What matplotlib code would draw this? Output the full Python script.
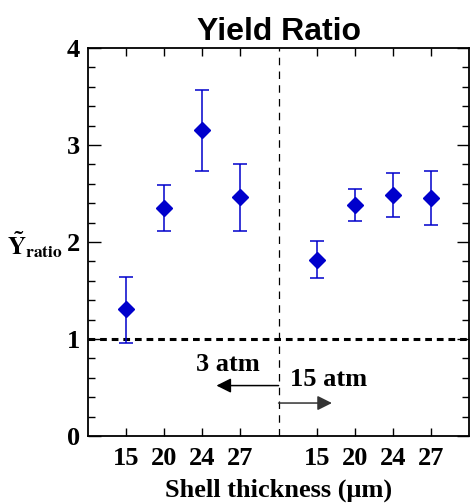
import matplotlib
matplotlib.use("Agg")
import matplotlib.pyplot as plt
from matplotlib.ticker import MultipleLocator

# shell thickness groups: 3 atm (left) and 15 atm (right)
thickness = ["15", "20", "24", "27", "15", "20", "24", "27"]
slots = [1, 2, 3, 4, 6, 7, 8, 9]
ratio = [1.31, 2.35, 3.15, 2.46, 1.81, 2.38, 2.48, 2.45]
err_hi = [1.64, 2.59, 3.57, 2.80, 2.01, 2.55, 2.71, 2.73]
err_lo = [0.96, 2.11, 2.73, 2.11, 1.63, 2.22, 2.26, 2.18]
divider = 5
reference = 1.0

plt.rcParams["mathtext.fontset"] = "stix"
serif = "Liberation Serif"
blue = "#0000cc"

fig = plt.figure(figsize=(4.7, 5.04), dpi=100)
ax = fig.add_axes([0.1872, 0.1349, 0.811, 0.7698])

yerr = [[r - lo for r, lo in zip(ratio, err_lo)],
        [hi - r for r, hi in zip(ratio, err_hi)]]
ax.errorbar(slots, ratio, yerr=yerr, fmt="D", color=blue, ms=8.5,
            ecolor=blue, elinewidth=1.1, capsize=5, capthick=1.1, zorder=3)

ax.axhline(reference, color="k", lw=2.2, ls=(0, (2.2, 1.6)), zorder=2)
ax.axvline(divider, color="k", lw=0.9, ls=(0, (6, 5)), zorder=1)

# pressure arrows
ax.annotate("", xy=(3.37, 0.52), xytext=(divider, 0.52),
            arrowprops=dict(arrowstyle="-|>", color="k", lw=1.1,
                            mutation_scale=22, shrinkA=0, shrinkB=0))
ax.annotate("", xy=(6.4, 0.34), xytext=(divider, 0.34),
            arrowprops=dict(arrowstyle="-|>", color="#333333", lw=1.1,
                            mutation_scale=22, shrinkA=0, shrinkB=0))
ax.text(3.68, 0.74, "3 atm", family=serif, weight="bold", fontsize=19,
        ha="center", va="center")
ax.text(5.3, 0.58, "15 atm", family=serif, weight="bold", fontsize=19,
        ha="left", va="center")

ax.set_xlim(0, 10)
ax.set_ylim(0, 4)
ax.set_xticks(slots)
ax.set_xticklabels(thickness)
ax.yaxis.set_major_locator(MultipleLocator(1))
ax.yaxis.set_minor_locator(MultipleLocator(0.2))
ax.tick_params(axis="both", which="both", direction="in", top=True,
               right=True, labelsize=19)
ax.tick_params(axis="y", which="major", length=9, width=1, pad=6)
ax.tick_params(axis="y", which="minor", length=5, width=1)
ax.tick_params(axis="x", which="major", length=6, width=1, pad=8)
for lab in ax.get_xticklabels() + ax.get_yticklabels():
    lab.set_family(serif)
    lab.set_weight("bold")
for sp in ax.spines.values():
    sp.set_linewidth(1.3)

ax.set_title("Yield Ratio", family="Liberation Sans", weight="bold",
             fontsize=23, pad=6)
ax.set_xlabel("Shell thickness (\u03bcm)", family=serif, weight="bold",
              fontsize=19, labelpad=6)
fig.text(0.015, 0.515, r"$\mathbf{\tilde{Y}}_{\mathbf{ratio}}$", fontsize=18,
         ha="left", va="center")

fig.savefig("out.png", dpi=100)
